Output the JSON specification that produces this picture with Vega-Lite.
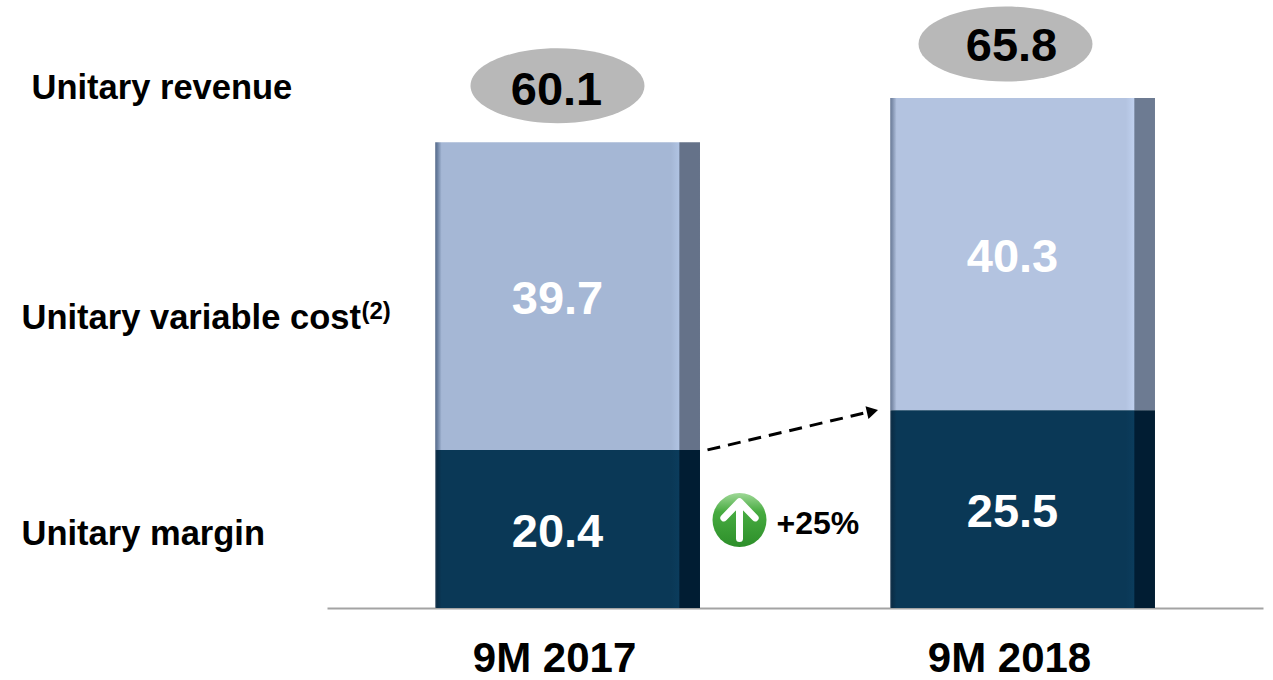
{
"$schema":"https://vega.github.io/schema/vega-lite/v6.json",
"width":1273,"height":608,"autosize":"none","padding":{"left":0,"top":0,"right":0,"bottom":72},
"background":"white",
"config":{"view":{"stroke":null}},
"datasets":{
"bars":[
{"period":"9M 2017","series":"Unitary margin","value":20.4,"base":0,"top":20.4},
{"period":"9M 2017","series":"Unitary variable cost","value":39.7,"base":20.4,"top":60.1},
{"period":"9M 2018","series":"Unitary margin","value":25.5,"base":0,"top":25.5},
{"period":"9M 2018","series":"Unitary variable cost","value":40.3,"base":25.5,"top":65.8}],
"totals":[{"period":"9M 2017","total":60.1},{"period":"9M 2018","total":65.8}],
"rows":[{"label":"Unitary revenue","period":"9M 2017","at":60.1},
{"label":"Unitary variable cost","period":"9M 2017","at":38.97},
{"label":"Unitary margin","period":"9M 2017","at":11.1}],
"trend":[{"period":"9M 2017","to":"9M 2018","a":20.4,"b":25.25}],
"head":[{"period":"9M 2018","b":25.5}],
"change":[{"period":"9M 2017","a":20.4,"pct":"+25%","iconAt":11.35}]
},
"encoding":{"x":{"field":"period","type":"nominal","scale":{"type":"band","domain":["9M 2017","9M 2018"],"range":[327,1263],"paddingInner":0.4176,"paddingOuter":0.2374},
"axis":{"title":null,"domainColor":"#a3a3a3","domainWidth":2,"ticks":false,"grid":false,"labelAngle":0,"labelFont":"Liberation Sans","labelFontWeight":"bold","labelFontSize":42,"labelColor":"#000000","labelPadding":50,"labelBaseline":"middle","labelOffset":-13}}},
"layer":[
{"data":{"name":"bars"},"transform":[{"filter":"datum.period==='9M 2017'&&datum.series==='Unitary variable cost'"}],
"mark":{"type":"bar","color":{"gradient":"linear","x1":0,"x2":1,"y1":0,"y2":0,"stops":[{"offset":0,"color":"#8c98ad"},{"offset":0.006,"color":"#5f7596"},{"offset":0.025,"color":"#a5b7d5"},{"offset":0.89,"color":"#a5b7d5"},{"offset":0.92,"color":"#b0c3e2"},{"offset":0.924,"color":"#657289"},{"offset":1,"color":"#657289"}]}},
"encoding":{"y":{"field":"base","type":"quantitative","scale":{"domain":[0,78.45],"nice":false,"zero":false},"axis":null},"y2":{"field":"top"}}},
{"data":{"name":"bars"},"transform":[{"filter":"datum.period==='9M 2018'&&datum.series==='Unitary variable cost'"}],
"mark":{"type":"bar","color":{"gradient":"linear","x1":0,"x2":1,"y1":0,"y2":0,"stops":[{"offset":0,"color":"#9aa6ba"},{"offset":0.006,"color":"#7485a2"},{"offset":0.025,"color":"#b3c3e0"},{"offset":0.89,"color":"#b3c3e0"},{"offset":0.92,"color":"#bfd0ee"},{"offset":0.924,"color":"#6d7b92"},{"offset":1,"color":"#6d7b92"}]}},
"encoding":{"y":{"field":"base","type":"quantitative","axis":null},"y2":{"field":"top"}}},
{"data":{"name":"bars"},"transform":[{"filter":"datum.series==='Unitary margin'"}],
"mark":{"type":"bar","color":{"gradient":"linear","x1":0,"x2":1,"y1":0,"y2":0,"stops":[{"offset":0,"color":"#8c98a5"},{"offset":0.006,"color":"#0a2c45"},{"offset":0.025,"color":"#0a3856"},{"offset":0.89,"color":"#0a3856"},{"offset":0.92,"color":"#0b3c5c"},{"offset":0.924,"color":"#011d33"},{"offset":1,"color":"#011d33"}]}},
"encoding":{"y":{"field":"base","type":"quantitative","axis":null},"y2":{"field":"top"}}},
{"data":{"name":"bars"},"transform":[{"calculate":"(datum.base+datum.top)/2","as":"mid"}],
"mark":{"type":"text","font":"Liberation Sans","color":"white","fontSize":47,"fontWeight":"bold","align":"center","baseline":"middle","xOffset":-10,"yOffset":4},
"encoding":{"y":{"field":"mid","type":"quantitative","axis":null},"text":{"field":"value","type":"quantitative","format":".1f"}}},
{"data":{"name":"totals"},"transform":[{"filter":"datum.period==='9M 2017'"}],"mark":{"type":"point","filled":true,"opacity":1,"color":"#b8b8b8","size":30276,"shape":"M-1,0A1,0.431,0,1,1,1,0A1,0.431,0,1,1,-1,0Z","xOffset":-10,"yOffset":-56.5},
"encoding":{"y":{"field":"total","type":"quantitative","axis":null}}},
{"data":{"name":"totals"},"transform":[{"filter":"datum.period==='9M 2018'"}],"mark":{"type":"point","filled":true,"opacity":1,"color":"#b8b8b8","size":30276,"shape":"M-1,0A1,0.431,0,1,1,1,0A1,0.431,0,1,1,-1,0Z","xOffset":-17,"yOffset":-54},
"encoding":{"y":{"field":"total","type":"quantitative","axis":null}}},
{"data":{"name":"totals"},"mark":{"type":"text","font":"Liberation Sans","color":"black","fontSize":47,"fontWeight":"bold","align":"center","baseline":"middle","xOffset":-11,"yOffset":-51},
"encoding":{"y":{"field":"total","type":"quantitative","axis":null},"text":{"field":"total","type":"quantitative","format":".1f"}}},
{"data":{"name":"rows"},"transform":[{"filter":"datum.label==='Unitary revenue'"}],"mark":{"type":"text","font":"Liberation Sans","color":"black","fontSize":34.5,"fontWeight":"bold","align":"left","baseline":"middle","xOffset":-536,"yOffset":-53},
"encoding":{"y":{"field":"at","type":"quantitative","axis":null},"text":{"field":"label"}}},
{"data":{"name":"rows"},"transform":[{"filter":"datum.label!=='Unitary revenue'"}],"mark":{"type":"text","font":"Liberation Sans","color":"black","fontSize":34.5,"fontWeight":"bold","align":"left","baseline":"middle","xOffset":-546,"yOffset":13},
"encoding":{"y":{"field":"at","type":"quantitative","axis":null},"text":{"field":"label"}}},
{"data":{"name":"change"},"mark":{"type":"text","font":"Liberation Sans","color":"black","fontSize":24,"fontWeight":"bold","align":"left","baseline":"middle","text":"(2)","xOffset":-206,"yOffset":-138},
"encoding":{"y":{"field":"a","type":"quantitative","axis":null}}},
{"data":{"name":"trend"},"mark":{"type":"rule","color":"black","strokeWidth":3,"strokeDash":[13,8],"xOffset":140,"x2Offset":-155},
"encoding":{"x2":{"field":"to"},"y":{"field":"a","type":"quantitative","axis":null},"y2":{"field":"b"}}},
{"data":{"name":"head"},"mark":{"type":"point","filled":true,"opacity":1,"color":"black","shape":"triangle-right","size":170,"angle":-13,"xOffset":-150,"yOffset":1},
"encoding":{"y":{"field":"b","type":"quantitative","axis":null}}},
{"data":{"name":"change"},"mark":{"type":"point","filled":true,"opacity":1,"size":2916,"shape":"circle","xOffset":172,"color":{"gradient":"linear","x1":0,"x2":0,"y1":0,"y2":1,"stops":[{"offset":0,"color":"#9fd897"},{"offset":0.35,"color":"#47ab40"},{"offset":1,"color":"#2d8f2a"}]}},
"encoding":{"y":{"field":"iconAt","type":"quantitative","axis":null}}},
{"data":{"name":"change"},"mark":{"type":"point","filled":false,"opacity":1,"size":2916,"color":"white","strokeWidth":7,"strokeCap":"round","strokeJoin":"round","shape":"M0,0.68L0,-0.6M-0.58,-0.08L0,-0.68L0.58,-0.08","xOffset":172},
"encoding":{"y":{"field":"iconAt","type":"quantitative","axis":null}}},
{"data":{"name":"change"},"mark":{"type":"text","font":"Liberation Sans","color":"black","fontSize":32,"fontWeight":"bold","align":"left","baseline":"middle","xOffset":209,"yOffset":4},
"encoding":{"y":{"field":"iconAt","type":"quantitative","axis":null},"text":{"field":"pct"}}}
]
}
